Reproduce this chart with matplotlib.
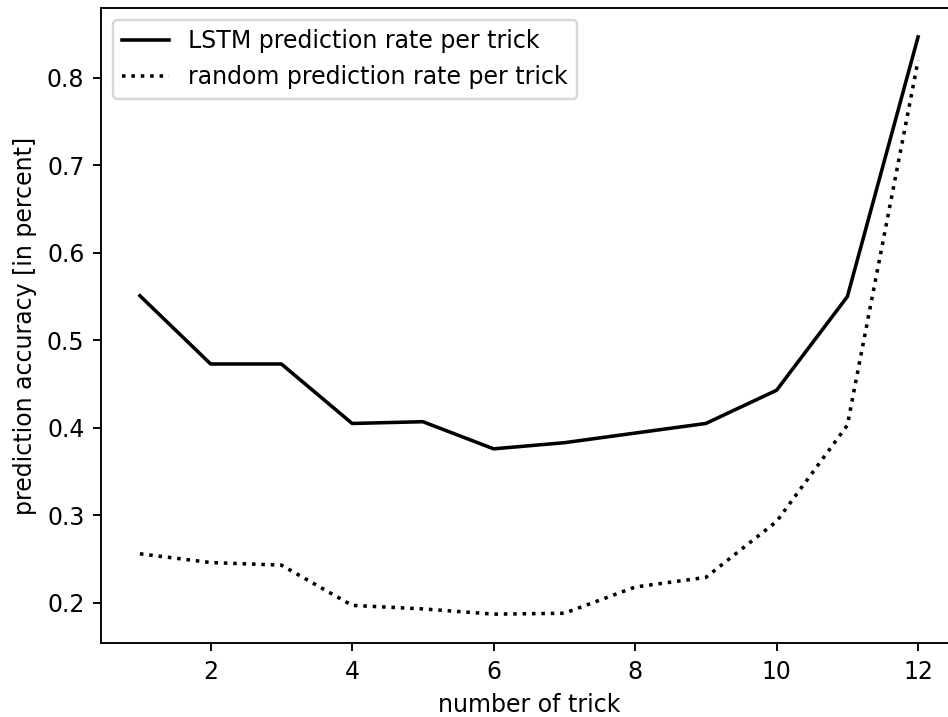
import matplotlib
matplotlib.use("Agg")
import matplotlib.pyplot as plt

tricks = [1, 2, 3, 4, 5, 6, 7, 8, 9, 10, 11, 12]
lstm_rate = [0.551, 0.473, 0.473, 0.405, 0.407, 0.376, 0.383, 0.394, 0.405, 0.443, 0.550, 0.847]
random_rate = [0.256, 0.246, 0.243, 0.197, 0.193, 0.187, 0.188, 0.218, 0.229, 0.293, 0.403, 0.820]

dpi = 170
fig = plt.figure(figsize=(948 / dpi, 717 / dpi), dpi=dpi)
ax = fig.add_subplot(111)
fig.subplots_adjust(left=101 / 948, right=957 / 948, top=1 - 8 / 717, bottom=1 - 643 / 717)

ax.plot(tricks, lstm_rate, color="black", linestyle="-", label="LSTM prediction rate per trick")
ax.plot(tricks, random_rate, color="black", linestyle=":", label="random prediction rate per trick")
ax.set_xlabel("number of trick")
ax.set_ylabel("prediction accuracy [in percent]")
ax.legend(loc="upper left")

fig.savefig("out.png", dpi=dpi)
